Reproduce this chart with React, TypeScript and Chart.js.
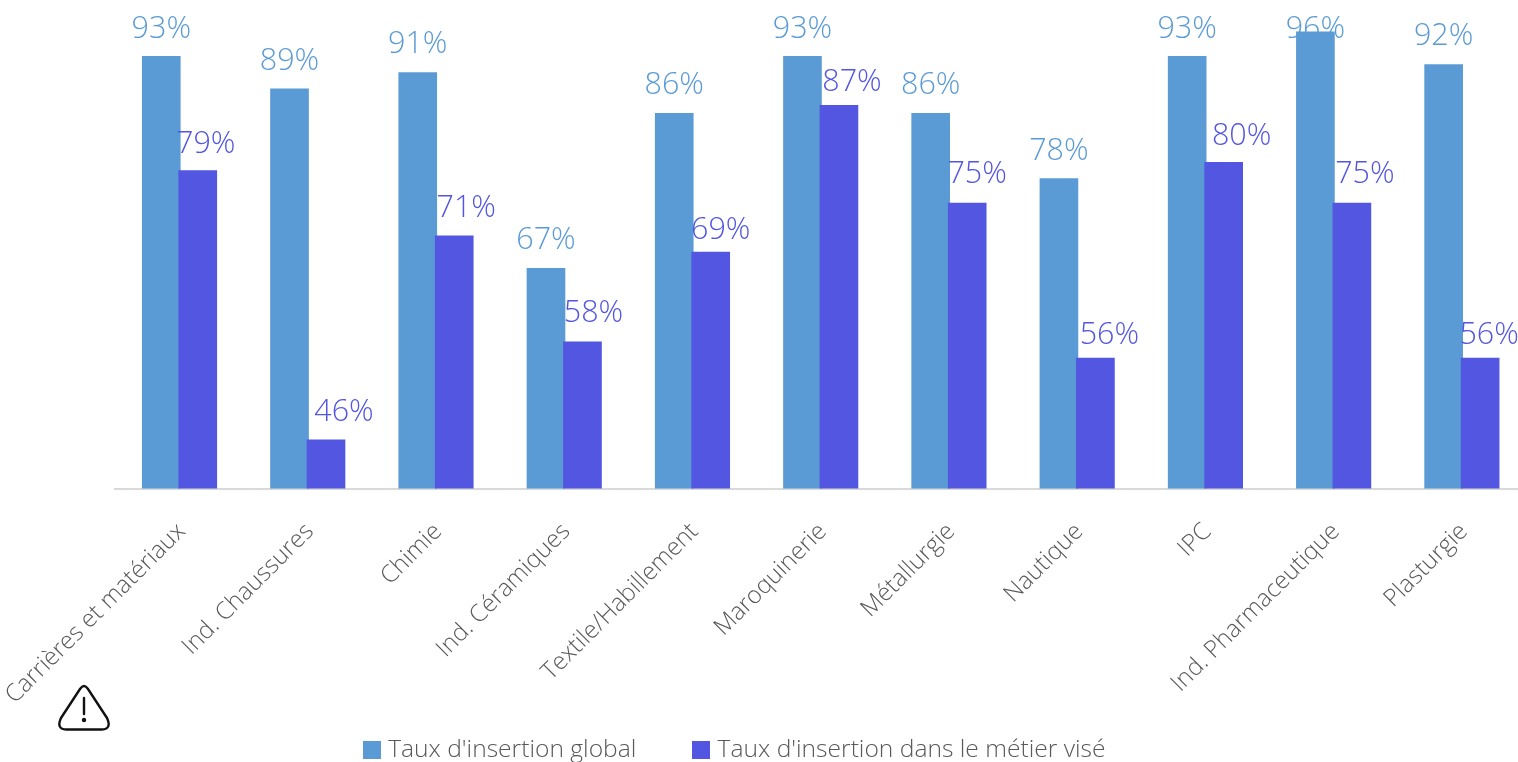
import React, { useEffect, useRef } from "react";
import { Chart, registerables } from "chart.js";

Chart.register(...registerables);

const categories = [
  "Carrières et matériaux", "Ind. Chaussures", "Chimie", "Ind. Céramiques",
  "Textile/Habillement", "Maroquinerie", "Métallurgie", "Nautique", "IPC",
  "Ind. Pharmaceutique", "Plasturgie",
];
const globalRate = [93, 89, 91, 67, 86, 93, 86, 78, 93, 96, 92];
const jobRate = [79, 46, 71, 58, 69, 87, 75, 56, 80, 75, 56];
const seriesNames = ["Taux d'insertion global", "Taux d'insertion dans le métier visé"];
const seriesColors = ["#5B9BD5", "#5256E0"];

// Hand-placed data label offsets from the top-centre of each bar.
const jobLabelShiftX = [8, 18, 12, 11, 10, 13, 10, 14, 18, 13, 9];
const jobLabelShiftY = [-27, -29, -29, -30, -23, -24, -30, -24, -27, -30, -24];
const FONT = '"Open Sans", "Noto Sans", sans-serif';
const AXIS_Y = 489;

function swatch(color: string) {
  const c = document.createElement("canvas");
  c.width = 18;
  c.height = 18;
  const g = c.getContext("2d")!;
  g.fillStyle = color;
  g.fillRect(0, 0, 18, 18);
  return c;
}

const paintInOrder = {
  id: "paintInOrder",
  beforeDatasetsDraw(chart: any) {
    const ctx = chart.ctx;
    const labels = (i: number) => {
      const meta = chart.getDatasetMeta(i);
      const values = chart.data.datasets[i].data;
      ctx.save();
      ctx.font = `300 30.5px ${FONT}`;
      ctx.fillStyle = seriesColors[i];
      ctx.textAlign = "center";
      ctx.textBaseline = "middle";
      meta.data.forEach((bar: any, k: number) => {
        const dx = i === 1 ? jobLabelShiftX[k] : 0;
        const dy = (i === 1 ? jobLabelShiftY[k] : -29) + 1.5;
        ctx.fillText(values[k] + "%", bar.x + dx, Math.max(29.5, bar.y + dy));
      });
      ctx.restore();
    };
    const bars = (i: number) => {
      const a = chart.chartArea;
      ctx.save();
      ctx.beginPath();
      ctx.rect(a.left, 0, chart.width, a.bottom);
      ctx.clip();
      chart.getDatasetMeta(i).controller.draw();
      ctx.restore();
    };
    labels(0);
    bars(0);
    bars(1);
    labels(1);
    return false;
  },
};

const placeLegend = {
  id: "placeLegend",
  afterLayout(chart: any) {
    const l = chart.legend;
    const pad = l.options.labels.padding;
    l.left -= 84;
    l.right -= 84;
    const h = l.bottom - l.top;
    l.top = 750 - 12.3 - pad;
    l.bottom = l.top + h;
    // The tick labels are clipped to the scale's box: let them run down past the legend's slot.
    const x = chart.scales.x;
    x.top += 1;
    x.bottom = chart.height;
  },
};

export default function App() {
  const ref = useRef<HTMLCanvasElement>(null);
  useEffect(() => {
    const chart = new Chart(ref.current!, {
      type: "bar",
      data: {
        labels: categories,
        datasets: [
          { label: seriesNames[0], data: globalRate, backgroundColor: seriesColors[0] },
          { label: seriesNames[1], data: jobRate, backgroundColor: seriesColors[1] },
        ],
      },
      plugins: [paintInOrder, placeLegend],
      options: {
        responsive: false,
        animation: false,
        events: [],
        layout: { padding: { left: 115.4, right: 0, top: 31.5, bottom: 0 } },
        datasets: { bar: { categoryPercentage: 0.569, barPercentage: 1.06 } },
        scales: {
          x: {
            grid: { display: false },
            border: { display: true, color: "#D9D9D9", width: 2 },
            ticks: {
              autoSkip: false,
              minRotation: 45,
              maxRotation: 45,
              padding: 20,
              labelOffset: 2,
              color: "#595959",
              font: { family: FONT, size: 24.2, weight: "300" },
            },
            afterFit(s: any) {
              s.height = 762 - AXIS_Y - 95;
              s.paddingLeft = 0;
              s.paddingRight = 0;
            },
          },
          y: { display: false, min: 40, max: 96 },
        },
        plugins: {
          tooltip: { enabled: false },
          legend: {
            position: "bottom",
            labels: {
              usePointStyle: true,
              pointStyleWidth: 8,
              padding: 61,
              color: "#595959",
              font: { family: FONT, size: 24.6, weight: "300" },
              generateLabels(c: any) {
                return Chart.defaults.plugins.legend.labels.generateLabels(c).map((it: any, i: number) => ({
                  ...it,
                  pointStyle: swatch(seriesColors[i]),
                }));
              },
            },
          },
        },
      } as any,
    });
    return () => chart.destroy();
  }, []);

  return (
    <div style={{ position: "absolute", left: 0, top: 0, width: 1518, height: 762, overflow: "hidden", background: "#fff" }}>
      <canvas ref={ref} width={1526} height={762} style={{ display: "block" }} />
      <svg width="60" height="54" viewBox="0 0 60 54" style={{ position: "absolute", left: 54, top: 681 }} fill="none" stroke="#111" strokeWidth="2.4" strokeLinejoin="round" strokeLinecap="round">
        <path d="M26 8 Q30 2 34 8 L53 37 Q58 48 48 48.5 L12 48.5 Q2 48 7 37 Z" />
        <path d="M30 17 L30 33" />
        <circle cx="30" cy="39" r="1" fill="#111" />
      </svg>
    </div>
  );
}
